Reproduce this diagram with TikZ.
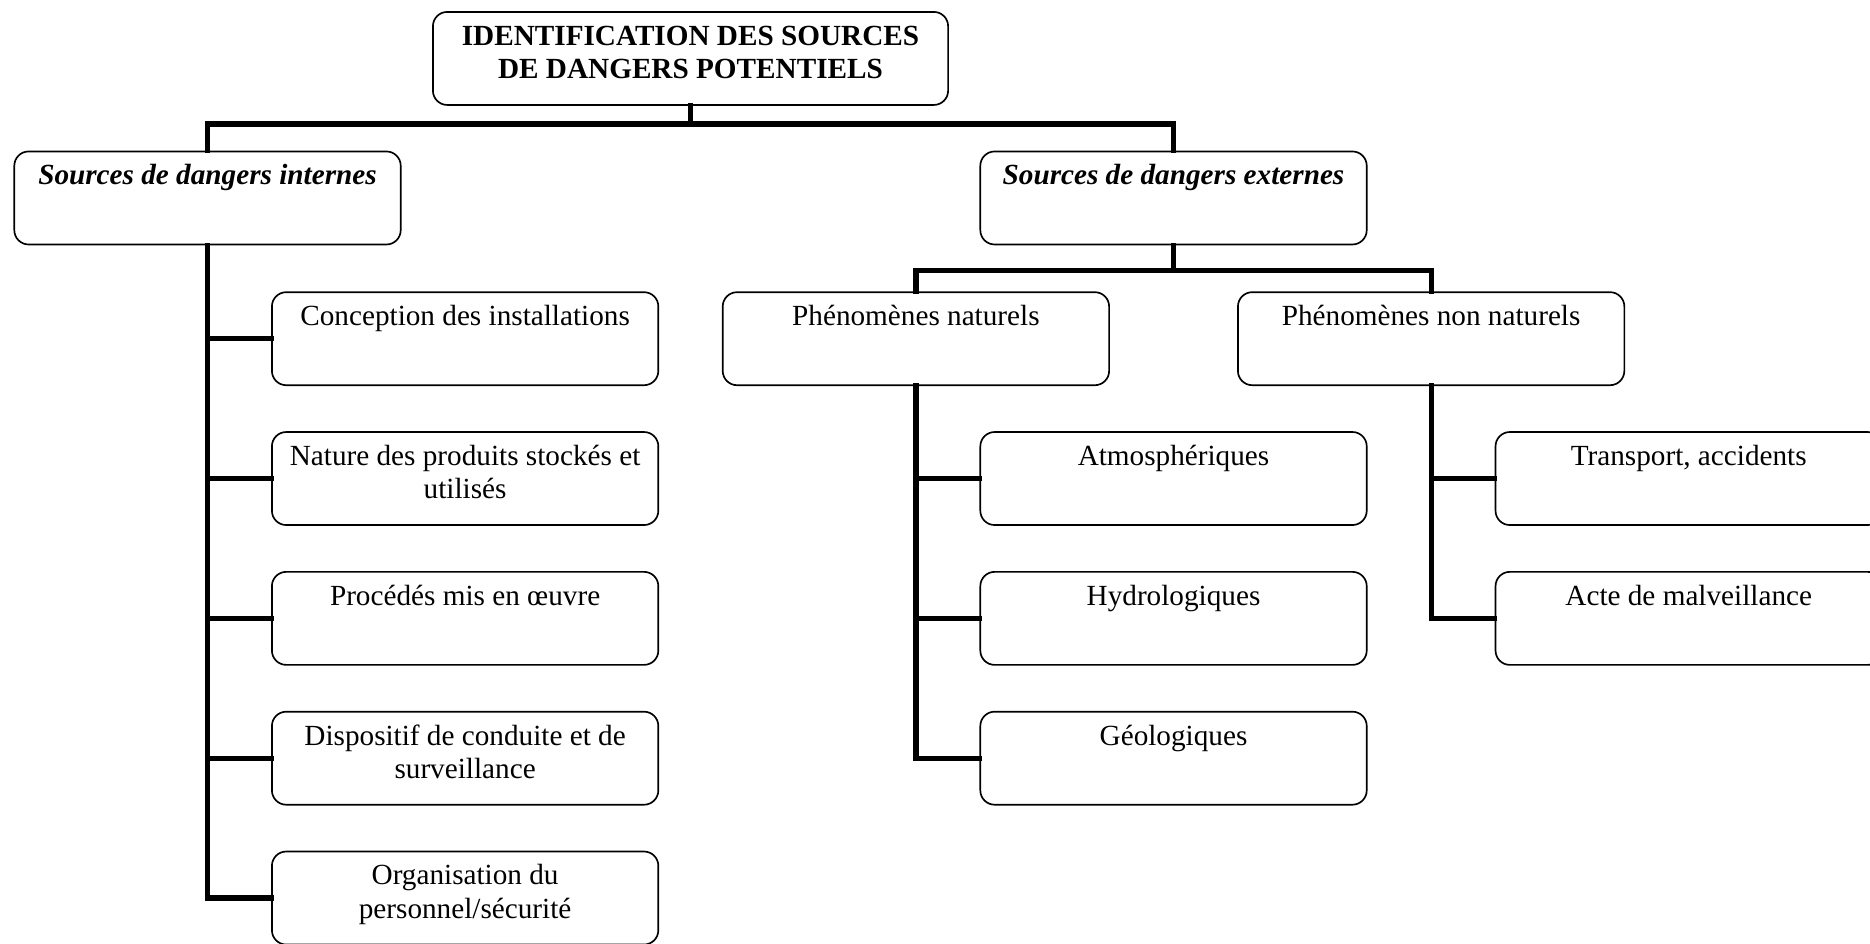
\documentclass[tikz,border=0pt]{standalone}
\usepackage{fontspec}
\setmainfont{Liberation Serif}
\begin{document}
\begin{tikzpicture}[x=0.5pt,y=-0.5pt,
  box/.style={draw, line width=0.7pt, rounded corners=6pt, inner xsep=1pt, inner ysep=0pt,
    text width=160pt, align=flush center, text height=14pt, text depth=25pt,
    font=\fontsize{12.25}{14}\selectfont},
  titlebox/.style={box, text width=214pt, font=\fontsize{12.25}{14}\selectfont\bfseries},
  catbox/.style={box, font=\fontsize{12.25}{14}\selectfont\bfseries\itshape},
  conn/.style={line width=2.2pt, line join=miter, line cap=rect}]
\useasboundingbox (0,0) rectangle (1568,791);
\clip (0,0) rectangle (1568,791);

% title
\node[titlebox] (T) at (579,49) {IDENTIFICATION DES SOURCES\\DE DANGERS POTENTIELS};
% categories
\node[catbox] (L) at (174,166) {Sources de dangers internes};
\node[catbox] (R) at (984,166) {Sources de dangers externes};
% internal sources
\node[box] (c1) at (390,284) {Conception des installations};
\node[box] (c2) at (390,401.25) {Nature des produits stockés et\\utilisés};
\node[box] (c3) at (390,518.5) {Procédés mis en œuvre};
\node[box] (c4) at (390,635.75) {Dispositif de conduite et de\\surveillance};
\node[box] (c5) at (390,753) {Organisation du\\personnel/sécurité};
% external sources
\node[box] (N) at (768,284) {Phénomènes naturels};
\node[box] (NN) at (1200,284) {Phénomènes non naturels};
\node[box] (n1) at (984,401.25) {Atmosphériques};
\node[box] (n2) at (984,518.5) {Hydrologiques};
\node[box] (n3) at (984,635.75) {Géologiques};
\node[box] (m1) at (1416,401.25) {Transport, accidents};
\node[box] (m2) at (1416,518.5) {Acte de malveillance};

% junctions
\coordinate (tj) at (579,104);
\coordinate (rj) at (984,227);

% connectors
\draw[conn] (T.south) -- (tj);
\draw[conn] (L.north) |- (tj) -| (R.north);
\draw[conn] (L.south) |- (c5.west);
\foreach \c in {c1,c2,c3,c4} \draw[conn] (\c.west) -- (\c.west -| L.south);
\draw[conn] (R.south) -- (rj);
\draw[conn] (N.north) |- (rj) -| (NN.north);
\draw[conn] (N.south) |- (n3.west);
\foreach \c in {n1,n2} \draw[conn] (\c.west) -- (\c.west -| N.south);
\draw[conn] (NN.south) |- (m2.west);
\draw[conn] (m1.west) -- (m1.west -| NN.south);
\end{tikzpicture}
\end{document}
